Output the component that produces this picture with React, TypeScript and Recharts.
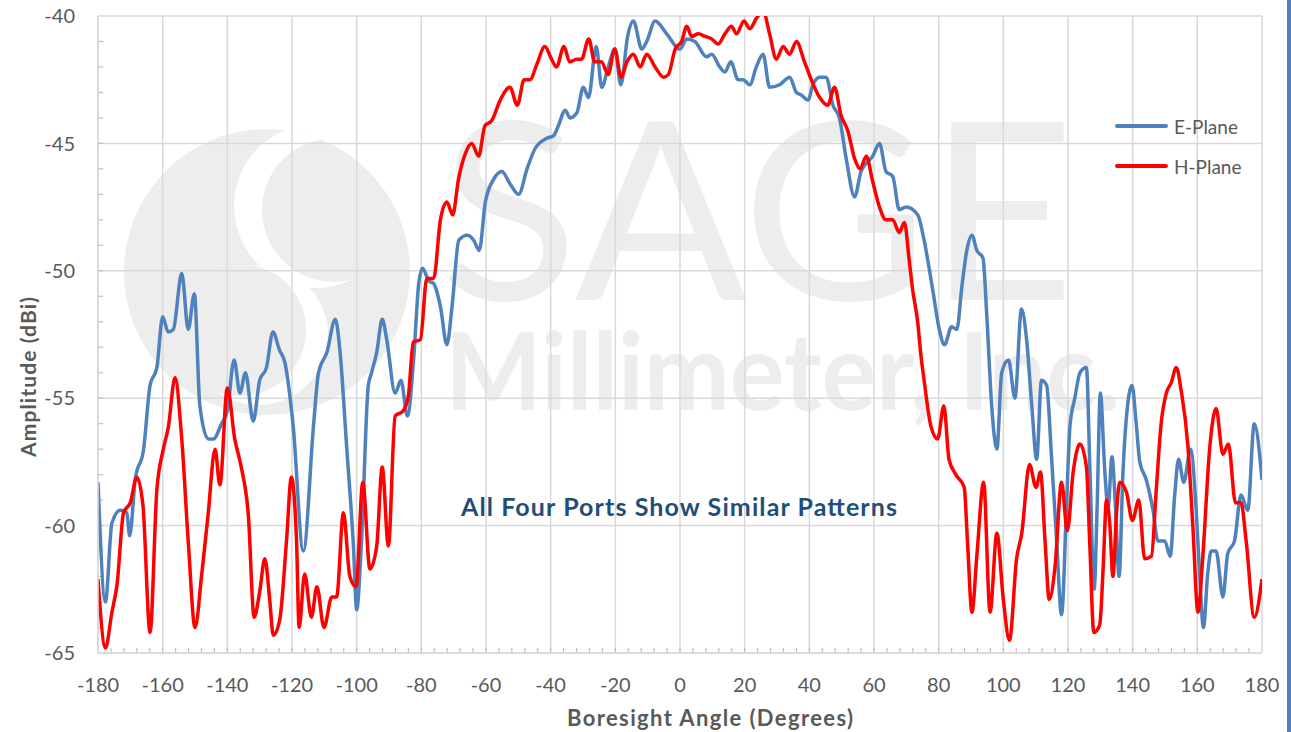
import React from 'react';
import { LineChart, Line, XAxis, YAxis, CartesianGrid, ReferenceLine, Legend } from 'recharts';

// E-Plane (blue)
const eAngles = [
  -180, -177.7, -175.7, -173.1, -171.1, -170.2, -168.5, -165.9, -163.9, -161.8, -160, -158.3, -156.7, -154.1,
  -152.1, -150.2, -148.5, -145.9, -144.3, -141.8, -140, -137.9, -136.1, -134.4, -132, -130, -127.9, -125.9,
  -123.9, -122.2, -119.7, -116.5, -113.3, -111.8, -109.2, -106.6, -105.2, -103.1, -101, -100, -98.5, -96.4,
  -95.4, -93.8, -92.1, -90.7, -88.1, -86.3, -84.3, -82.4, -80.8, -79.6, -77.7, -76.2, -74.1, -72.1, -70.5,
  -68.4, -65.8, -63.8, -62.1, -60.2, -57.6, -55.1, -52.5, -49.9, -47.3, -44.8, -41.2, -39.1, -37.6, -35.5,
  -34, -31.9, -29.9, -28.3, -25.9, -24.2, -22.2, -20.1, -18.3, -16.2, -14.4, -11.8, -10.3, -7.7, -4.1, 0,
  2.1, 4.6, 8.2, 9.8, 12.3, 13.9, 15.7, 18, 19.5, 21.6, 23.6, 25.7, 27.7, 30.8, 33.9, 36, 37.5, 39.6, 41.1,
  43.2, 45.2, 47.3, 49.3, 51.4, 54, 56, 59.6, 61.7, 63.7, 65.8, 67.8, 69.9, 73.5, 75.5, 78.1, 80.2, 81.8, 84,
  85.6, 87.2, 88.7, 90.3, 91.8, 93.7, 94.9, 96.4, 98, 99.5, 101.6, 103.6, 105.6, 107.2, 108.8, 110.3, 111.8,
  113.4, 114.9, 116.5, 118, 119.6, 120.6, 122.1, 123.7, 125.7, 126.8, 128.1, 129, 130, 131.4, 132.4, 133.6,
  134.7, 135.8, 137, 138.1, 139.8, 141.1, 142.2, 144.2, 146.3, 147.8, 149.9, 151.6, 153, 154.2, 155.8, 157.9,
  159.6, 160.7, 161.9, 163.2, 164.3, 165.8, 167.9, 169.4, 171.5, 173.5, 175.6, 177.6, 180,
];
const eValues = [
  -58.3, -63.0, -59.9, -59.4, -59.5, -60.4, -58.2, -57.0, -54.5, -53.8, -51.8, -52.4, -52.3, -50.1,
  -52.3, -50.9, -55.3, -56.6, -56.6, -56.0, -55.5, -53.5, -54.8, -54.0, -55.9, -54.3, -53.8, -52.4,
  -53.1, -53.6, -56.0, -61.0, -56.0, -54.0, -53.2, -51.9, -53.1, -56.9, -60.8, -63.3, -60.6, -54.5,
  -54.0, -53.2, -51.9, -52.7, -54.8, -54.3, -55.7, -53.5, -50.5, -49.9, -50.4, -50.5, -51.4, -52.9, -51.4,
  -48.8, -48.6, -48.8, -49.2, -47.3, -46.4, -46.1, -46.6, -47.0, -46.0, -45.2, -44.8, -44.7, -44.3, -43.7,
  -44.0, -43.8, -42.8, -43.2, -41.2, -42.8, -42.0, -41.3, -42.7, -40.8, -40.2, -41.3, -41.0, -40.2, -40.7, -41.3,
  -40.9, -41.0, -41.6, -41.5, -42.0, -42.2, -41.8, -42.5, -42.5, -42.7, -42.0, -41.5, -42.8, -42.7, -42.4, -43.0, -43.1, -43.3, -42.7,
  -42.4, -42.4, -43.5, -44.0, -45.6, -47.1, -46.1, -45.5, -45.0, -46.1, -46.3, -47.6, -47.5, -47.8, -48.8, -50.7, -52.3, -52.9, -52.2,
  -52.3, -50.6, -49.2, -48.6, -49.2, -49.5, -51.8, -55.3, -57.0, -54.0, -53.5, -55.0, -51.5, -52.7, -55.3, -57.4, -54.3,
  -54.5, -57.3, -60.6, -63.5, -59.0, -56.1, -55.0, -54.0, -53.8, -57.9, -62.5, -59.3, -54.8, -57.9, -59.3, -57.3,
  -59.3, -62.0, -57.9, -55.7, -54.5, -56.0, -57.5, -58.2, -59.4, -60.6, -60.6, -61.2, -58.8, -57.4, -58.3, -57.0,
  -59.3, -61.9, -64.0, -61.9, -61.0, -61.0, -62.8, -61.1, -60.6, -58.8, -59.4, -56.0, -58.2,
];

// H-Plane (red)
const hAngles = [
  -180, -177.7, -175.7, -174.1, -172.1, -170, -168, -166.1, -163.9, -161.8, -159.8, -158.2, -156.2, -154.1,
  -152, -150, -147.9, -145.9, -143.8, -142.3, -140, -137.7, -135.7, -133.5, -131.7, -130, -128.4, -126.9,
  -125.8, -123.8, -121.7, -120.2, -118.6, -117.8, -116.1, -114, -112.3, -110.1, -107.7, -106.2, -104.1, -102.1,
  -100.2, -98.1, -95.9, -93.8, -92.1, -90.2, -88.1, -85.6, -84, -82.5, -80.3, -78.3, -76.2, -74.1, -72.1,
  -70.3, -68.5, -66.4, -64.4, -62.3, -60.3, -58.2, -55.6, -52.6, -50.3, -48.2, -46.4, -44.3, -41.8, -39.7,
  -38.2, -35.9, -34.1, -32, -30.5, -28.2, -26.4, -24.3, -22.2, -20.2, -18.2, -16.4, -14.4, -12.3, -10.3, -7.7,
  -5.1, -3.6, -1.5, 0.5, 2.1, 3.6, 5.7, 7.7, 9.8, 11.8, 13.9, 15.9, 17.5, 19.8, 21.6, 23.6, 25.7, 27.7, 29.8,
  31.9, 33.9, 36, 38.5, 40.6, 43.2, 45.7, 47.8, 49.8, 51.9, 54, 55.7, 57.6, 59.6, 61.7, 63.7, 65.8, 67.8, 69.4,
  70.9, 71.9, 73.5, 74.5, 75.5, 77.6, 79.7, 81.6, 83.2, 85.3, 87.9, 88.9, 90.3, 91.8, 93.9, 95.9, 98, 100,
  101.9, 104.1, 105.7, 108.1, 110.1, 111.5, 112.9, 114.2, 116, 118, 119.8, 121.6, 123.7, 125.7, 126.7, 128,
  129.8, 130.9, 131.9, 132.9, 133.9, 135, 136, 138.1, 139.9, 141.9, 143.7, 145.8, 147.3, 148.8, 150.4, 151.9,
  153.5, 155, 157.1, 158.6, 160.2, 161.7, 163.8, 165.8, 167.9, 169.6, 171.8, 173.5, 175.1, 177.6, 180,
];
const hValues = [
  -62.1, -64.8, -63.4, -62.3, -59.5, -59.1, -58.1, -59.2, -64.2, -58.6, -57.0, -56.1, -54.2, -56.6,
  -60.8, -64.0, -61.9, -59.5, -57.0, -58.4, -54.6, -56.6, -57.7, -59.6, -63.6, -62.6, -61.3, -62.9,
  -64.3, -63.7, -60.6, -58.1, -60.6, -64.0, -61.9, -63.6, -62.4, -64.0, -62.8, -62.8, -59.5, -62.0,
  -62.4, -58.3, -61.7, -60.8, -57.7, -60.8, -55.7, -55.5, -54.9, -52.8, -52.7, -50.3, -50.3, -48.0, -47.3,
  -47.8, -46.4, -45.4, -45.0, -45.5, -44.3, -44.1, -43.3, -42.8, -43.5, -42.5, -42.5, -41.9, -41.2, -41.7,
  -42.0, -41.2, -41.8, -41.7, -41.7, -40.9, -41.8, -41.8, -42.3, -41.3, -42.4, -41.8, -41.5, -42.0, -41.5, -42.0,
  -42.4, -42.3, -41.3, -41.0, -40.4, -40.8, -40.7, -40.8, -40.9, -41.1, -40.7, -40.4, -40.7, -40.2, -40.5, -40.1, -39.8, -40.7, -41.7,
  -41.2, -41.5, -41.0, -41.8, -42.5, -43.2, -43.5, -42.8, -43.9, -44.5, -45.6, -46.0, -45.5, -46.5, -47.5, -48.0, -48.0, -48.5, -48.1,
  -49.6, -50.7, -52.0, -53.3, -54.3, -56.1, -56.6, -55.3, -57.4, -58.0, -58.5, -60.6, -63.4, -61.2, -58.3, -63.4, -60.3, -62.9,
  -64.5, -61.3, -60.3, -57.6, -58.5, -57.9, -60.6, -62.9, -61.6, -58.3, -60.2, -57.9, -56.8, -57.7, -60.6, -64.2,
  -63.9, -61.6, -59.0, -59.9, -62.0, -59.5, -58.3, -58.7, -59.8, -59.0, -61.3, -61.2, -58.6, -56.0, -54.8, -54.4,
  -53.8, -54.7, -56.9, -60.0, -63.4, -61.2, -57.0, -55.4, -57.2, -56.8, -59.1, -59.1, -60.6, -63.6, -62.1,
];

const xTicks = [-180, -160, -140, -120, -100, -80, -60, -40, -20, 0, 20, 40, 60, 80, 100, 120, 140, 160, 180];
const yTicks = [-65, -60, -55, -50, -45, -40];
const xMinorTicks = Array.from({ length: 89 }, (_, i) => -176 + i * 4);
const yMinorTicks = Array.from({ length: 24 }, (_, i) => -64 + i);

const seriesNames = ['E-Plane', 'H-Plane'];
const seriesColors = ['#4F81BD', '#FF0000'];

const eData = eAngles.map((a, i) => ({ a, v: eValues[i] }));
const hData = hAngles.map((a, i) => ({ a, v: hValues[i] }));

const GRID = '#D9D9D9';
const TXT = '#595959';

function LegendBox() {
  return (
    <div style={{ fontFamily: 'Lato', fontSize: 19, color: TXT }}>
      {seriesNames.map((n, i) => (
        <div key={n} style={{ display: 'flex', alignItems: 'center', height: 40 }}>
          <div style={{ width: 53, height: 4, background: seriesColors[i], borderRadius: 2, marginRight: 6 }} />
          <span>{n}</span>
        </div>
      ))}
    </div>
  );
}

// faint company watermark behind the plot
function Watermark() {
  const c = '#EDEDED';
  return (
    <svg width={1291} height={732} style={{ position: 'absolute', left: 0, top: 0 }}>
      <defs>
        <clipPath id="logoClip">
          <circle cx={267} cy={272} r={143} />
        </clipPath>
      </defs>
      <circle cx={267} cy={272} r={143} fill={c} />
      <g clipPath="url(#logoClip)">
        <circle cx={316} cy={206} r={82} fill="#fff" />
        <circle cx={334} cy={210} r={72} fill={c} />
        <circle cx={258} cy={335} r={70} fill="#fff" />
        <circle cx={240} cy={330} r={66} fill={c} />
      </g>
      <text x={440} y={300} fontFamily="Lato" fontWeight={400} fontSize={248} fill={c} textLength={635} lengthAdjust="spacingAndGlyphs">
        SAGE
      </text>
      <text x={445} y={410} fontFamily="Lato" fontWeight={700} fontSize={108} fill={c} textLength={675} lengthAdjust="spacingAndGlyphs">
        Millimeter, Inc.
      </text>
    </svg>
  );
}

export default function App() {
  return (
    <div style={{ position: 'absolute', left: 0, top: 0, width: 1291, height: 732, background: '#fff' }}>
      <Watermark />
      <div style={{ position: 'absolute', left: 0, top: 0 }}>
        <LineChart width={1291} height={732} margin={{ top: 16, right: 29, bottom: 0, left: 0 }}>
          <CartesianGrid stroke={GRID} strokeWidth={1.5} horizontalValues={yTicks} verticalValues={xTicks} />
          <XAxis
            dataKey="a"
            type="number"
            domain={[-180, 180]}
            ticks={xTicks}
            allowDataOverflow
            height={79}
            tickLine={false}
            tickSize={6}
            tickMargin={19}
            axisLine={{ stroke: GRID, strokeWidth: 1.5 }}
            tick={{ fill: TXT, fontSize: 20, fontFamily: 'Lato' }}
          />
          <YAxis
            type="number"
            domain={[-65, -40]}
            ticks={yTicks}
            allowDataOverflow
            width={98}
            tickLine={false}
            tickSize={6}
            tickMargin={17}
            axisLine={{ stroke: GRID, strokeWidth: 1.5 }}
            tick={{ fill: TXT, fontSize: 20, fontFamily: 'Lato' }}
          />
          {xMinorTicks.map((t) => (
            <ReferenceLine key={'xm' + t} segment={[{ x: t, y: -65 }, { x: t, y: -64.8 }]} stroke="#BFBFBF" strokeWidth={1.2} />
          ))}
          {yMinorTicks.map((t) => (
            <ReferenceLine key={'ym' + t} segment={[{ x: -180, y: t }, { x: -178.4, y: t }]} stroke="#BFBFBF" strokeWidth={1.2} />
          ))}
          <Legend
            layout="vertical"
            align="center"
            verticalAlign="middle"
            content={<LegendBox />}
            wrapperStyle={{ left: 1115, top: 106, width: 150, height: 80 }}
          />
          <Line data={eData} dataKey="v" name={seriesNames[0]} type="monotone" stroke={seriesColors[0]} strokeWidth={3.5} dot={false} isAnimationActive={false} />
          <Line data={hData} dataKey="v" name={seriesNames[1]} type="monotone" stroke={seriesColors[1]} strokeWidth={3.5} dot={false} isAnimationActive={false} />
        </LineChart>
      </div>
      <svg width={1291} height={732} style={{ position: 'absolute', left: 0, top: 0, pointerEvents: 'none' }}>
        <text x={27} y={377} transform="rotate(-90 27 377)" textAnchor="middle" dominantBaseline="central" fontFamily="Lato" fontWeight={700} fontSize={21} fill={TXT} textLength={160} lengthAdjust="spacing">
          Amplitude (dBi)
        </text>
        <text x={710} y={717} textAnchor="middle" dominantBaseline="central" fontFamily="Lato" fontWeight={700} fontSize={22} fill={TXT} textLength={286} lengthAdjust="spacing">
          Boresight Angle (Degrees)
        </text>
        <text x={679} y={506} textAnchor="middle" dominantBaseline="central" fontFamily="Lato" fontWeight={700} fontSize={25} fill="#1F4E79" textLength={436} lengthAdjust="spacing">
          All Four Ports Show Similar Patterns
        </text>
        <rect x={1287} y={0} width={4} height={732} fill="#4F81BD" />
      </svg>
    </div>
  );
}
